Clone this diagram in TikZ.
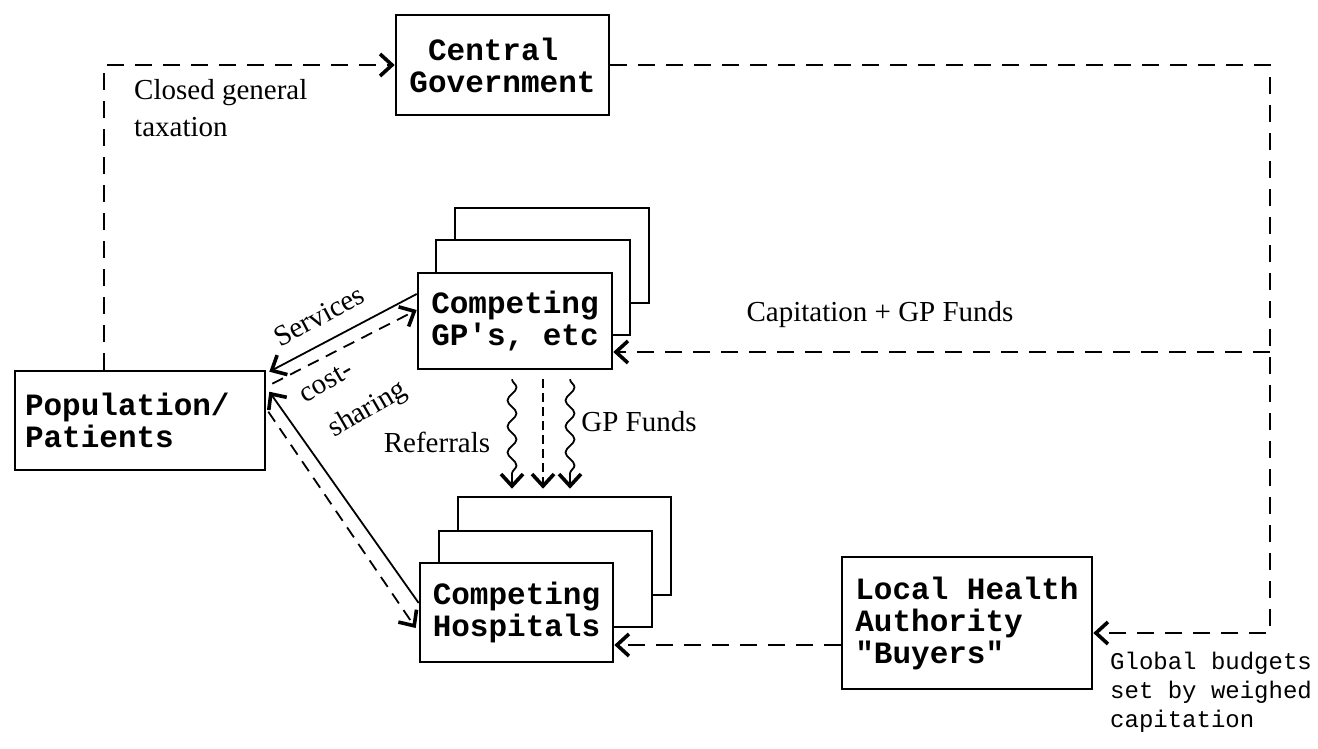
\documentclass[tikz,border=0pt]{standalone}
\usepackage{fontspec}
\setmainfont{Liberation Serif}
\newfontfamily\boxfont{Liberation Mono}
\newfontfamily\monolab{Liberation Mono}
\usetikzlibrary{arrows.meta,decorations.pathmorphing}
\tikzset{
  >={Straight Barb[length=12pt,width=22pt,line width=3.6pt]},
  box/.style={draw, line width=2.6pt, fill=white, inner sep=0pt, align=left,
    font={\boxfont\bfseries\fontsize{31}{32}\selectfont}},
  dline/.style={line width=2.4pt, dash pattern=on 17pt off 11pt, ->},
  sline/.style={line width=1.8pt, ->},
  cline/.style={line width=1.8pt, dash pattern=on 12pt off 8pt, ->},
  wave/.style={line width=1.8pt, ->, decorate,
    decoration={snake, amplitude=4.5pt, segment length=26pt, post length=12pt}},
  ddline/.style={line width=1.8pt, dash pattern=on 9pt off 5pt, ->},
  lab/.style={inner sep=0pt, align=left, font={\fontsize{29}{37}\selectfont}},
  mlab/.style={inner sep=0pt, align=left, font={\monolab\fontsize{24}{29}\selectfont}},
}
\begin{document}
\begin{tikzpicture}[x=1pt,y=-1pt]
\useasboundingbox (0,0) rectangle (1318,749);
% boxes
\node[box, minimum width=213pt, minimum height=100pt] (cg) at (502.5,65) {\phantom{C}Central\\Government};
\node[box, minimum width=250pt, minimum height=99pt, text width=230pt] (pop) at (140,420.5) {Population/\\Patients};
\node[box, minimum width=194pt, minimum height=95pt] (gp3) at (552,255.5) {};
\node[box, minimum width=194pt, minimum height=95pt] (gp2) at (533,287.5) {};
\node[box, minimum width=194pt, minimum height=96pt] (gp) at (515,321) {Competing\\GP\symbol{39}s, etc};
\node[box, minimum width=213pt, minimum height=98pt] (hosp3) at (564.5,546) {};
\node[box, minimum width=213pt, minimum height=96pt] (hosp2) at (545.5,579) {};
\node[box, minimum width=193pt, minimum height=99pt] (hosp) at (516.5,612.5) {Competing\\Hospitals};
\node[box, minimum width=250pt, minimum height=132pt] (lha) at (967,623) {Local Health\\Authority\\"Buyers"};
% corner coordinates
\coordinate (tl) at (104,65);
\coordinate (tr) at (1270,65);
\coordinate (br) at (1270,633);
\coordinate (gpin) at (1270,352);
\coordinate (hin) at (842,645);
% dashed flows
\draw[dline] (pop.north -| tl) -- (tl) -- (cg.west);
\draw[dline] (cg.east) -- (tr) -- (br) -- (lha.east |- br);
\draw[dline] (gpin) -- (gp.east |- gpin);
\draw[dline] (lha.west |- hin) -- (hosp.east |- hin);
% population links
\draw[sline] ([yshift=27pt]gp.west) -- ([xshift=3pt,yshift=-2pt]pop.north east);
\draw[cline] ([xshift=6pt,yshift=-14pt]pop.north east) -- ([yshift=11pt]gp.west);
\draw[sline] ([yshift=9.5pt]hosp.west) -- ([xshift=3pt,yshift=-22pt]pop.north east);
\draw[cline] ([xshift=2pt,yshift=-42pt]pop.north east) -- ([xshift=-3pt,yshift=-15.5pt]hosp.west);
% referrals and funds
\draw[wave] ([xshift=-3pt,yshift=-9pt]gp.south) -- ([xshift=-52.5pt,yshift=7pt]hosp3.north);
\draw[ddline] ([xshift=28pt,yshift=-9pt]gp.south) -- ([xshift=-21.5pt,yshift=7pt]hosp3.north);
\draw[wave] ([xshift=55pt,yshift=-9pt]gp.south) -- ([xshift=5.5pt,yshift=7pt]hosp3.north);
% labels
\node[lab, anchor=west] (taxl) at (134,108) {Closed general\\taxation};
\node[lab] (capl) at (880,315) {Capitation + GP Funds};
\node[lab, rotate=28] (servl) at (319,316) {Services};
\node[lab, rotate=30] (costl) at (326,382) {cost-};
\node[lab, rotate=30] (sharl) at (368,410) {sharing};
\node[lab] (refl) at (437,442) {Referrals};
\node[lab] (gpfl) at (639,422) {GP Funds};
\node[mlab, anchor=west] (globl) at (1110,692) {Global budgets\\set by weighed\\capitation};
\end{tikzpicture}
\end{document}
